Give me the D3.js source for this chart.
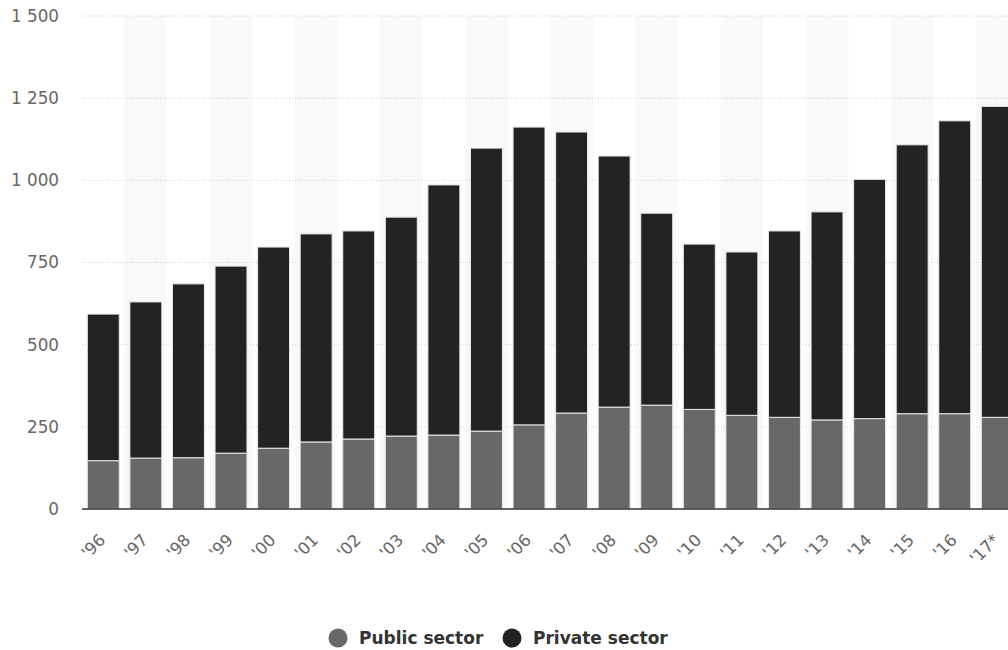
<!DOCTYPE html>
<html lang="en">
<head>
    <meta charset="UTF-8">
    <title>Public and private sector</title>
    <script src="https://d3js.org/d3.v7.min.js"></script>
    <style>
        body {
            margin: 0;
            background: #fff;
            font-family: "DejaVu Sans", sans-serif;
        }
        .tick text {
            fill: #666;
        }
    </style>
</head>
<body>
    <div id="chart"></div>

    <script>
        const years = ["'96", "'97", "'98", "'99", "'00", "'01", "'02", "'03", "'04", "'05", "'06",
                       "'07", "'08", "'09", "'10", "'11", "'12", "'13", "'14", "'15", "'16", "'17*"];
        const publicSector = [147, 155, 156, 170, 185, 204, 213, 222, 225, 237, 256,
                              292, 310, 316, 303, 285, 279, 271, 275, 290, 290, 279];
        const totals = [593, 630, 685, 739, 797, 837, 846, 888, 986, 1098, 1162,
                        1147, 1074, 900, 806, 782, 846, 904, 1003, 1108, 1181, 1225];
        const privateSector = totals.map((t, i) => t - publicSector[i]);
        const yTicks = [0, 250, 500, 750, 1000, 1250, 1500];

        const width = 1008;
        const height = 650;

        const svg = d3.select("#chart")
            .append("svg")
            .attr("width", width)
            .attr("height", height);

        const x = d3.scaleBand()
            .domain(years)
            .range([82, 1018.6])
            .paddingInner(0.25)
            .paddingOuter(0.125);

        const y = d3.scaleLinear()
            .domain([0, 1500])
            .range([509, 16]);

        // alternating column shading
        svg.append("g")
            .selectAll("rect")
            .data(years.filter((d, i) => i % 2 === 1))
            .enter()
            .append("rect")
            .attr("x", d => x(d) - x.step() * 0.125)
            .attr("width", x.step())
            .attr("y", y(1500))
            .attr("height", y(0) - y(1500))
            .attr("fill", "#f9f9f9");

        // dotted grid
        svg.append("g")
            .selectAll("line")
            .data(yTicks.slice(1))
            .enter()
            .append("line")
            .attr("x1", 82)
            .attr("x2", width)
            .attr("y1", d => y(d))
            .attr("y2", d => y(d))
            .attr("stroke", "#ccc")
            .attr("stroke-dasharray", "1,2");

        const fmt = d => d3.format(",")(d).replace(/,/g, " ");

        const yAxis = svg.append("g")
            .attr("transform", "translate(59,0)")
            .call(d3.axisLeft(y).tickValues(yTicks).tickFormat(fmt).tickSize(0).tickPadding(0));
        yAxis.select(".domain").remove();
        yAxis.selectAll("text").attr("font-size", 16.8).attr("font-family", "DejaVu Sans");

        const stackData = years.map((yr, i) => ({ year: yr, pub: publicSector[i], priv: privateSector[i] }));
        const series = d3.stack().keys(["pub", "priv"])(stackData);
        const colors = { pub: "#686868", priv: "#232323" };

        svg.append("g")
            .selectAll("g")
            .data(series)
            .enter()
            .append("g")
            .attr("fill", d => colors[d.key])
            .selectAll("rect")
            .data(d => d)
            .enter()
            .append("rect")
            .attr("x", d => x(d.data.year))
            .attr("width", x.bandwidth())
            .attr("y", d => y(d[1]))
            .attr("height", d => y(d[0]) - y(d[1]))
            .attr("stroke", "#e8e8e8")
            .attr("stroke-width", 1);

        // baseline
        svg.append("line")
            .attr("x1", 82)
            .attr("x2", width)
            .attr("y1", y(0))
            .attr("y2", y(0))
            .attr("stroke", "#333")
            .attr("stroke-width", 1.5);

        const xAxis = svg.append("g")
            .attr("transform", `translate(0,${y(0)})`)
            .call(d3.axisBottom(x).tickSize(0).tickPadding(0));
        xAxis.select(".domain").remove();
        xAxis.selectAll("text")
            .attr("font-size", 16.5)
            .attr("font-family", "DejaVu Sans")
            .attr("text-anchor", "end")
            .attr("dy", "0.35em")
            .attr("transform", "translate(-1,28) rotate(-45)");

        // legend
        const legend = [
            { label: "Public sector", color: colors.pub, x: 338 },
            { label: "Private sector", color: colors.priv, x: 512 }
        ];
        const lg = svg.append("g")
            .selectAll("g")
            .data(legend)
            .enter()
            .append("g")
            .attr("transform", d => `translate(${d.x},638)`);
        lg.append("circle").attr("r", 9.5).attr("fill", d => d.color);
        lg.append("text")
            .attr("x", 21)
            .attr("dy", "0.35em")
            .attr("font-size", 17)
            .attr("font-weight", "bold")
            .attr("fill", "#333")
            .text(d => d.label);
    </script>
</body>
</html>
